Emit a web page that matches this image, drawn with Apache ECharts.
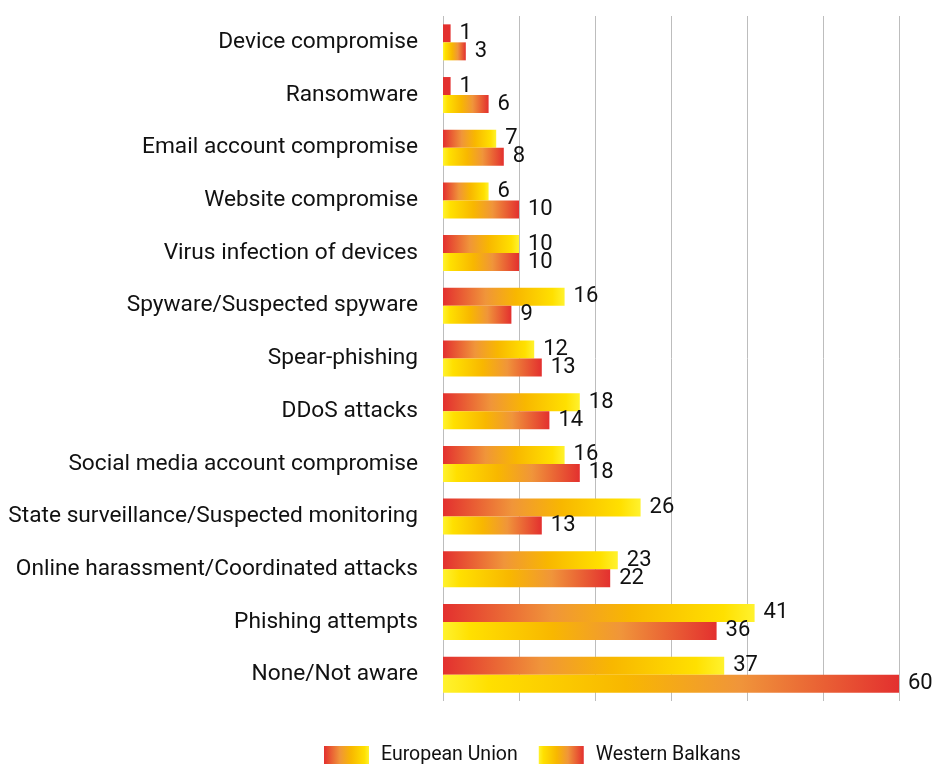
<!DOCTYPE html>
<html>
<head>
<meta charset="utf-8">
<script src="https://cdn.jsdelivr.net/npm/echarts@6/dist/echarts.min.js"></script>
<style>
  html, body { margin: 0; padding: 0; background: #fff; }
  #chart { width: 932px; height: 764px; }
</style>
</head>
<body>
<div id="chart"></div>
<script>
// Threats experienced, by region
const categories = [
  'Device compromise',
  'Ransomware',
  'Email account compromise',
  'Website compromise',
  'Virus infection of devices',
  'Spyware/Suspected spyware',
  'Spear-phishing',
  'DDoS attacks',
  'Social media account compromise',
  'State surveillance/Suspected monitoring',
  'Online harassment/Coordinated attacks',
  'Phishing attempts',
  'None/Not aware'
];
const europeanUnion = [1, 1, 7, 6, 10, 16, 12, 18, 16, 26, 23, 41, 37];
const westernBalkans = [3, 6, 8, 10, 10, 9, 13, 14, 18, 13, 22, 36, 60];
const seriesNames = ['European Union', 'Western Balkans'];

// Warm gradient stops, red -> orange -> yellow
const warmStops = [
  [0, '#e3302f'],
  [0.35, '#f0953a'],
  [0.6, '#f8b700'],
  [0.9, '#ffe000'],
  [1, '#fff22e']
];
const solidRed = '#e3302f';

function gradient(reverse) {
  const stops = warmStops.map(([o, c]) => ({ offset: reverse ? 1 - o : o, color: c }));
  stops.sort((a, b) => a.offset - b.offset);
  return new echarts.graphic.LinearGradient(0, 0, 1, 0, stops);
}

// Very short bars are too small to show the gradient; fill them with the start colour
function barItems(values) {
  return values.map(v => v < 2 ? { value: v, itemStyle: { color: solidRed } } : v);
}

const chart = echarts.init(document.getElementById('chart'));
const fontFamily = 'Roboto, "Noto Sans", sans-serif';

const labelStyle = {
  show: true,
  position: 'right',
  distance: 9,
  color: '#111',
  fontSize: 22,
  fontFamily: fontFamily
};

chart.setOption({
  animation: false,
  grid: { left: 443, right: 33, top: 16, bottom: 63, containLabel: false },
  legend: {
    top: 740,
    left: 319,
    itemWidth: 45,
    itemHeight: 18,
    itemGap: 21,
    icon: 'rect',
    textStyle: { fontSize: 19.5, color: '#111', fontFamily: fontFamily, padding: [0, 0, 0, 7] },
    data: seriesNames
  },
  xAxis: {
    type: 'value',
    min: 0,
    max: 60,
    interval: 10,
    axisLabel: { show: false },
    axisTick: { show: false },
    axisLine: { show: false },
    splitLine: { show: true, lineStyle: { color: '#bdbdbd', width: 1 } }
  },
  yAxis: {
    type: 'category',
    inverse: true,
    data: categories,
    axisLine: { show: false },
    axisTick: { show: false },
    axisLabel: { fontSize: 22.7, color: '#111', fontFamily: fontFamily, margin: 25, padding: [0, 0, 4, 0] }
  },
  series: [
    {
      name: seriesNames[0],
      type: 'bar',
      data: barItems(europeanUnion),
      barWidth: 18,
      barGap: '0%',
      itemStyle: { color: gradient(false) },
      label: labelStyle
    },
    {
      name: seriesNames[1],
      type: 'bar',
      data: westernBalkans,
      barWidth: 18,
      itemStyle: { color: gradient(true) },
      label: labelStyle
    }
  ]
});
</script>
</body>
</html>
